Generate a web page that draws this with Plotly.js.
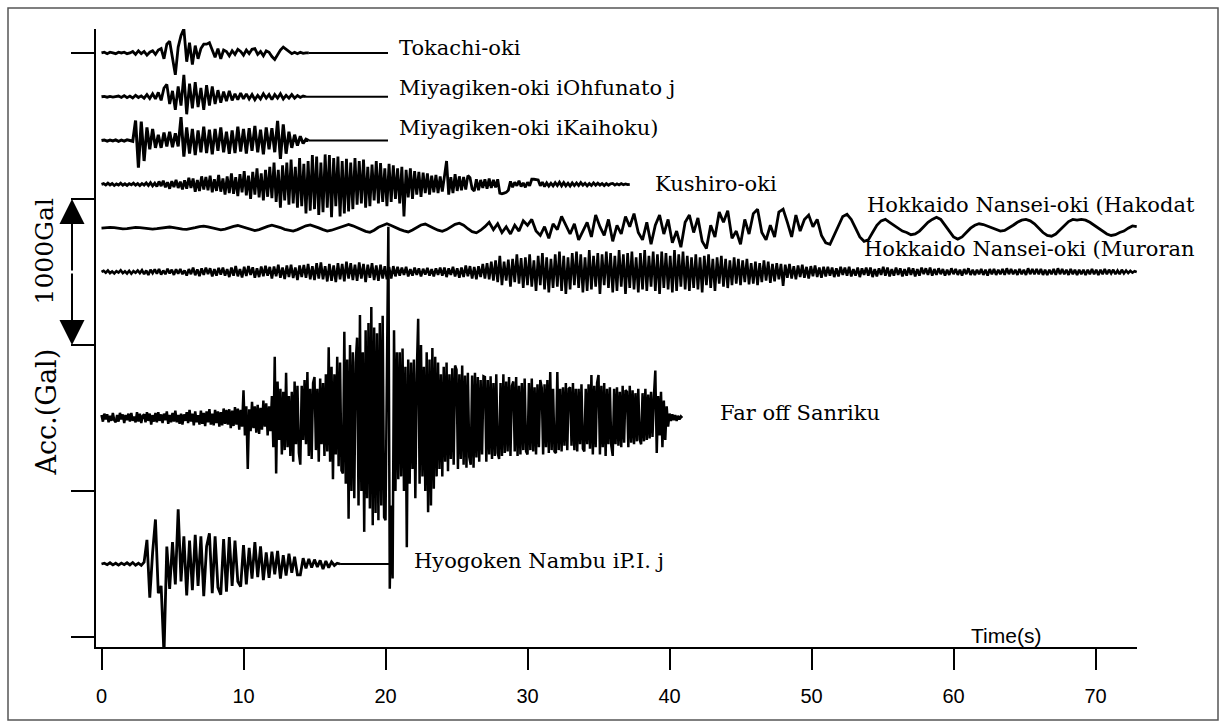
<!DOCTYPE html>
<html>
<head>
<meta charset="utf-8">
<script src="https://cdn.plot.ly/plotly-3.0.1.min.js"></script>
<style>
  html, body { margin: 0; padding: 0; background: #fff; }
  #chart { width: 1226px; height: 728px; }
</style>
</head>
<body>
<div id="chart"></div>
<script>
// ---------------- DATA (accelerations in Gal) ----------------
const xTickVals = [0, 10, 20, 30, 40, 50, 60, 70];
const xTickText = ["0", "10", "20", "30", "40", "50", "60", "70"];
const yTickVals = [0, 1000, 2000, 3000, 4000];

const recordNames = ["Tokachi-oki", "Miyagiken-oki iOhfunato j", "Miyagiken-oki iKaihoku)", "Kushiro-oki",
  "Hokkaido Nansei-oki (Hakodat", "Hokkaido Nansei-oki (Muroran", "Far off Sanriku", "Hyogoken Nambu iP.I. j"];

// sampling interval of each record (s)
const sampleStep = [0.2, 0.2, 0.2, 0.15, 0.3, 0.15, 0.1, 0.2];

const tokachi = [0,5,-5,5,0,-5,5,0,5,-5,0,
  10,-10,15,-5,10,-15,5,15,-10,20,
  30,-40,60,80,-50,
  -150,40,120,165,-60,
  70,-80,50,-40,30,
  60,60,70,20,-30,
  30,-40,20,10,-20,
  15,-10,25,10,-15,
  20,-5,25,30,-10,
  10,-20,15,5,-25,
  -45,-10,20,40,25,
  10,-5,5,-5,5,-3,0,0];

const ohfunato = [0,3,-3,2,-2,0,
  5,-5,8,-6,5,-8,10,-5,6,-10,
  15,-12,20,-15,30,
  -25,60,85,-50,40,
  -90,70,-60,150,-120,
  90,-80,100,-70,60,
  -90,80,-60,70,-50,
  45,-40,35,-30,40,
  -25,20,-20,25,-15,
  20,-15,15,-20,10,
  -15,20,-10,15,-20,
  15,-10,20,-15,10,
  -10,15,-10,8,-5,5,0];

const kaihoku = [0,4,-4,3,-3,5,-5,3,-4,5,0,
  -5,137,-185,130,-140,
  90,-60,80,-50,40,
  -50,55,-40,60,-45,
  50,-40,160,-110,90,
  -90,80,-100,70,-80,
  95,-85,75,-95,80,
  -70,90,-80,60,-90,
  70,-85,95,-75,80,
  -90,85,-70,100,-80,
  75,-95,90,-60,85,
  -80,135,-125,110,-90,
  60,-50,40,-35,30,
  -20,10,0];

const kushiro = [0,5,-5,8,-4,6,-8,3,-5,8,-6,4,-7,5,-3,8,-6,5,-8,6,
  -5,10,-8,12,-10,8,-15,20,-12,25,-20,15,-30,22,-18,30,-25,18,-35,28,
  -30,45,-25,40,-50,30,-45,55,-35,50,-40,60,-55,35,-45,65,-50,40,-70,55,
  -60,75,-65,50,-80,70,-55,90,-75,60,-100,85,-70,110,-90,75,-110,100,-85,120,
  -95,150,-120,100,-160,130,-110,150,-140,170,-130,120,-160,180,-150,140,-200,160,-180,200,
  -170,190,-210,150,-190,205,-160,200,-225,180,-150,190,-220,160,-200,175,-185,150,-170,180,
  -140,160,-130,170,-160,120,-150,135,-110,160,-130,145,-120,110,-150,140,-120,130,-100,110,
  -130,120,-220,100,-90,110,-100,90,-70,85,-85,80,-60,75,-70,60,-55,65,-60,55,
  -50,60,160,-70,50,-60,70,-45,55,-40,50,-35,60,45,-30,-45,35,-40,30,-25,
  35,-30,40,-25,30,-20,35,-60,-65,-60,-55,-40,20,-20,15,-10,25,-15,10,-20,
  15,-10,35,35,30,30,-10,15,-15,10,-12,8,-10,12,-8,15,-10,12,-10,8,
  -12,10,-8,10,-8,12,-6,8,-10,6,-8,10,-6,8,-5,6,-8,5,-6,4,
  6,-5,4,-4,5,-3,3,-2,0];

const hakodate = [0,3,5,3,-2,-5,-3,2,5,3,
  0,-4,-6,-3,2,6,8,4,-2,-6,
  -8,-4,3,10,14,8,0,-8,-12,-6,
  4,12,18,10,-2,-10,-16,-10,2,12,
  20,14,4,-8,-16,-20,-10,4,16,22,
  14,2,-10,-20,-14,-4,10,20,26,16,
  4,-10,-22,-28,-14,6,20,30,18,4,
  -8,-18,-26,-12,6,22,28,16,0,-14,
  -22,-10,8,26,34,20,-4,-24,-32,-14,
  10,40,-10,30,-30,10,-40,20,-20,50,
  20,60,-20,-50,10,-70,30,-10,80,20,
  -40,30,-80,-20,40,-60,90,10,-50,60,
  -90,20,-40,80,10,100,-30,-80,40,-110,
  20,90,-40,60,-100,-20,-130,40,90,-30,
  70,-90,-140,20,-60,110,40,120,-70,-20,
  -110,60,-40,100,130,-30,-80,20,-60,110,
  130,40,-60,90,-20,60,90,10,60,-50,
  -100,-110,-50,20,80,95,60,0,-60,-90,
  -80,-30,20,50,60,40,20,0,-20,-30,
  -45,-40,-20,10,40,60,75,60,20,-20,
  -60,-75,-60,-30,0,20,30,25,15,0,
  -10,-20,-15,0,20,40,55,60,50,30,
  0,-30,-50,-55,-40,-10,20,45,60,55,
  60,55,40,20,-5,-25,-40,-50,-45,-30,
  -20,0,15,10];

const muroran = [0,8,-5,10,-8,3,-10,6,-4,12,-8,5,-10,8,-12,6,-5,10,-8,12,
  -15,10,-20,15,-8,18,-12,20,-18,10,-15,22,-10,15,-20,18,-12,20,-15,10,
  -25,20,-15,30,-22,18,-28,25,-20,30,-15,25,-30,20,-25,28,-18,30,-25,20,
  -35,30,-25,40,-30,20,-38,35,-28,40,-20,32,-40,25,-35,38,-30,42,-25,35,
  -45,38,-30,50,-40,30,-48,45,-35,50,-42,30,-55,45,-35,48,-40,55,-50,40,
  -55,60,-45,65,-50,40,-65,55,-60,45,-70,60,-50,55,-65,70,-45,60,-55,50,
  -60,65,-45,55,-70,50,-40,60,-55,45,-60,50,-45,40,-50,35,-45,40,-30,35,
  -25,30,-20,35,-30,20,-25,30,-20,25,-30,22,-18,28,-25,20,-30,25,-20,30,
  -25,30,-35,25,-20,35,-30,25,-40,30,-35,45,-30,40,-45,35,-50,40,-35,55,
  -45,60,-50,70,-60,80,-70,110,-90,70,-60,85,-100,90,-70,120,-80,95,-110,100,
  -90,120,-100,80,-130,110,-90,130,-120,100,-140,90,-110,120,-100,140,-130,110,-150,100,
  -120,130,-90,140,-110,120,-140,100,-130,150,-120,110,-100,130,-150,120,-90,140,-110,130,
  -140,110,-130,150,-100,120,-150,130,-110,140,-120,100,-140,130,-120,150,-130,110,-100,140,
  -130,120,-150,140,-110,130,-120,110,-140,150,-130,120,-100,140,-120,110,-130,100,-110,120,
  -120,100,-140,110,-90,120,-110,90,-130,100,-80,110,-100,90,-110,80,-90,100,-80,90,
  -90,80,-70,90,-85,60,-80,70,-90,60,-70,80,-60,70,-75,55,-65,60,-50,55,
  -95,50,-40,55,-45,40,-50,45,-35,50,-40,35,-45,40,-30,45,-35,30,-40,35,
  -30,35,-25,30,-35,25,-30,35,-20,30,-25,35,-30,20,-25,30,-35,25,-20,30,
  -25,30,-35,20,-30,25,-20,35,-25,30,-30,20,-25,30,-20,25,-30,20,-25,30,
  -20,25,-30,20,-25,30,-15,25,-20,30,-25,20,-20,25,-15,20,-25,15,-20,25,
  -15,20,-20,15,-25,20,-15,25,-20,15,-20,15,-15,20,-20,15,-25,20,-15,20,
  -20,15,-15,20,-20,25,-15,20,-15,15,-20,20,-15,15,-20,25,-15,20,-15,20,
  -15,20,-20,15,-20,15,-15,20,-20,25,-15,20,-15,15,-20,20,-15,15,-20,15,
  -15,15,-20,15,-15,20,-15,15,-20,15,-15,20,-15,15,-10,15,-15,10,-15,15,
  -10,10,-8,8,-5,5,0];

const sanriku = [20,-25,30,-10,25,-30,15,-20,35,-15,
  -30,20,-25,35,-10,25,-35,20,-15,30,
  -25,35,-20,10,-30,40,-25,30,-35,15,
  25,-30,40,-20,30,-45,20,-25,35,-30,
  40,-20,25,-35,30,-15,45,-40,20,-30,
  35,-25,50,-30,20,-40,30,-45,25,-20,
  40,-35,55,-25,30,-50,45,-30,20,-45,
  50,-40,35,-55,45,-30,60,-45,30,-50,
  55,-35,45,-60,40,-50,65,-40,55,-45,
  60,-70,50,-55,75,-45,65,-80,55,-60,
  190,-120,80,-350,60,-90,110,-70,80,-100,
  90,-110,70,-80,120,-60,100,-120,80,-90,
  150,-200,420,-380,250,-150,200,-250,180,-220,
  310,-200,150,-260,180,-300,250,-180,220,-240,
  -320,220,-150,260,-180,315,-260,200,-280,240,
  280,-220,200,-300,270,-180,240,-260,300,-230,
  485,-300,350,-420,300,-250,420,-330,380,-360,
  -380,590,-450,400,-690,500,-500,450,-550,380,
  550,-600,705,-500,450,-780,600,-550,650,-620,
  760,-735,620,-650,580,-700,650,-600,700,-680,
  -700,600,1310,-1170,-600,-1100,600,-500,450,-420,
  450,-400,475,-500,350,-885,400,-450,380,-350,
  400,-550,300,680,-450,500,-400,350,-500,450,
  -645,400,-600,480,-485,420,-400,380,-350,300,
  -400,350,-300,380,-365,300,-280,340,-320,360,
  330,-350,300,-280,360,-320,290,-340,310,-270,
  -320,290,-340,310,-270,280,-300,260,-250,285,
  280,-300,260,-250,285,-280,240,-260,300,-240,
  -280,240,-260,300,-240,250,-230,280,-260,220,
  250,-230,280,-260,220,-250,240,-220,270,-230,
  -250,240,-220,270,-230,210,-250,230,-200,260,
  210,-250,230,-200,260,-240,315,-220,200,-230,
  -240,315,-220,200,-230,210,-190,240,-220,200,
  210,-190,240,-220,200,-230,200,-180,230,-210,
  -230,200,-180,230,-210,295,-250,220,-200,240,
  295,-250,220,-200,240,-260,200,-180,210,-190,
  -260,200,-180,210,-190,180,-200,220,-170,190,
  180,-200,220,-170,190,-180,170,-160,200,-150,
  -180,170,-160,200,-150,160,-140,180,-130,150,
  325,-240,150,-120,180,-200,120,-150,80,-60,
  30,-20,25,-15,20,-20,15,-10,10,0];

const hyogo = [0,5,-5,8,-6,
  5,-8,6,-5,8,
  -6,10,-8,5,-10,
  12,165,-230,80,305,
  -200,-150,-620,120,-170,
  150,-140,375,-120,190,
  -215,160,-180,200,-150,
  190,-220,120,210,-200,
  190,-160,-210,170,-190,
  185,-150,160,-120,-155,
  130,-140,110,-100,150,
  -90,120,-110,80,-95,
  85,-70,90,-100,60,
  -80,70,-60,50,-75,
  -75,40,-30,35,-25,
  30,-20,25,-35,20,
  -25,15,-10,5,0];

const records = [tokachi, ohfunato, kaihoku, kushiro, hakodate, muroran, sanriku, hyogo];

// ---------------- LAYOUT / POSITIONS / STYLES ----------------
const baseOffset = [4000, 3700, 3400, 3100, 2800, 2500, 1500, 500]; // vertical stacking (Gal)
const lineWidth = [2.8, 2.8, 3, 2.8, 2.8, 2.6, 2.5, 2.8];
const M = { l: 96, r: 89, t: 29, b: 81 };
const W = 1226, H = 728;
const PW = W - M.l - M.r, PH = H - M.t - M.b;
const XR = [-0.387, 72.92];
const YR = [-68.5, 4164];
const px2x = px => XR[0] + (px - M.l) / PW * (XR[1] - XR[0]);
const py2y = py => YR[0] + (M.t + PH - py) / PH * (YR[1] - YR[0]);
const px2paper = px => (px - M.l) / PW;
const py2paper = py => (M.t + PH - py) / PH;

// leader lines: record index -> right end (pixel)
const leaderEnd = { 0: 388, 1: 388, 2: 388, 7: 392 };
// label pixel positions: left x, baseline y
const labelPos = [[397, 55], [397, 95], [397, 135], [653, 191], [865, 212], [862, 256], [718, 420], [412, 568]];

const LABEL_FONT = { family: "DejaVu Serif, serif", size: 21, color: "#000" };

const traces = [];
records.forEach((vals, k) => {
  const dt = sampleStep[k];
  const xs = vals.map((_, i) => +(i * dt).toFixed(3));
  const ys = vals.map(v => v + baseOffset[k]);
  traces.push({
    type: "scatter", mode: "lines", x: xs, y: ys,
    line: { color: "#000", width: lineWidth[k], shape: "linear" },
    hoverinfo: "skip", showlegend: false
  });
  if (leaderEnd[k] !== undefined) {
    traces.push({
      type: "scatter", mode: "lines",
      x: [xs[xs.length - 1], px2x(leaderEnd[k])],
      y: [baseOffset[k], baseOffset[k]],
      line: { color: "#000", width: 2 },
      hoverinfo: "skip", showlegend: false
    });
  }
});

const annotations = recordNames.map((name, k) => ({
  text: name, xref: "x", yref: "y",
  x: px2x(labelPos[k][0]), y: py2y(labelPos[k][1] - 7.2),
  xanchor: "left", yanchor: "middle", showarrow: false,
  font: LABEL_FONT
}));

// y-axis texts
annotations.push({
  text: "Acc.(Gal)", xref: "paper", yref: "paper", textangle: -90,
  x: px2paper(45.5), y: py2paper(412), xanchor: "center", yanchor: "middle",
  showarrow: false, font: { family: "DejaVu Serif, serif", size: 27, color: "#000" }
});
annotations.push({
  text: "1000Gal", xref: "paper", yref: "paper", textangle: -90,
  x: px2paper(44.5), y: py2paper(251), xanchor: "center", yanchor: "middle",
  showarrow: false, font: { family: "DejaVu Serif, serif", size: 25, color: "#000" }
});
// x-axis title
annotations.push({
  text: "Time(s)", xref: "paper", yref: "paper",
  x: px2paper(1006), y: py2paper(635), xanchor: "center", yanchor: "middle",
  showarrow: false, font: { family: "Liberation Sans, Arial, sans-serif", size: 21, color: "#000" }
});
// 1000 Gal scale arrow (double headed)
const arrowX = px2paper(72);
[[3000, 73], [2000, -73]].forEach(([tip, ay]) => {
  annotations.push({
    text: "", xref: "paper", yref: "y", x: arrowX, y: tip,
    ax: 0, ay: ay, axref: "pixel", ayref: "pixel",
    showarrow: true, arrowhead: 2, arrowsize: 2.5, arrowwidth: 2, arrowcolor: "#000",
    standoff: 0, startstandoff: 0
  });
});

const layout = {
  width: W, height: H,
  margin: M,
  paper_bgcolor: "#fff", plot_bgcolor: "#fff",
  showlegend: false,
  xaxis: {
    range: XR, showgrid: false, zeroline: false,
    showline: true, linecolor: "#000", linewidth: 2,
    ticks: "outside", ticklen: 21, tickwidth: 2, tickcolor: "#000",
    ticklabelstandoff: 9,
    tickmode: "array", tickvals: xTickVals, ticktext: xTickText,
    tickfont: { family: "Liberation Sans, Arial, sans-serif", size: 20, color: "#000" }
  },
  yaxis: {
    range: YR, showgrid: false, zeroline: false,
    showline: true, linecolor: "#000", linewidth: 2,
    ticks: "outside", ticklen: 23, tickwidth: 2, tickcolor: "#000",
    tickmode: "array", tickvals: yTickVals, showticklabels: false
  },
  annotations: annotations,
  shapes: [{
    type: "rect", xref: "paper", yref: "paper",
    x0: px2paper(8), x1: px2paper(1218), y0: py2paper(720), y1: py2paper(8),
    line: { color: "#555", width: 1.5 }, fillcolor: "rgba(0,0,0,0)"
  }]
};

Plotly.newPlot("chart", traces, layout, { displayModeBar: false, staticPlot: true });
</script>
</body>
</html>
